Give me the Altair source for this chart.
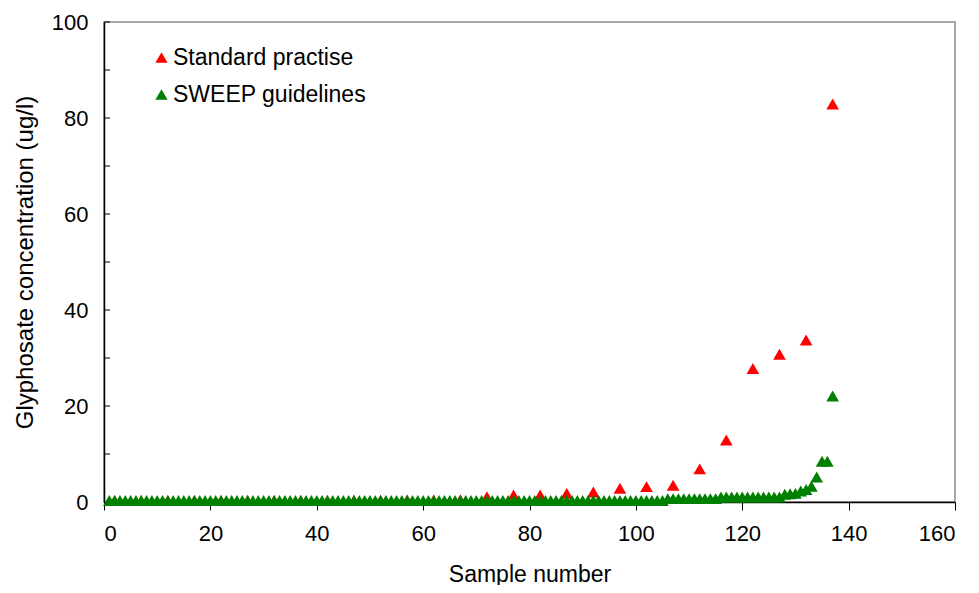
import altair as alt
import pandas as pd

# ---- data ----
green_x = list(range(1, 138))
green_y = ([0.3] * 105 +            # samples 1-105
           [0.7] * 10 +             # 106-115
           [1.05] * 12 +            # 116-127
           [1.6, 1.7, 1.8, 2.3, 2.6, 3.3, 5.2, 8.5, 8.5, 22.1])  # 128-137

red_x = list(range(2, 138, 5))
red_y = [0.3, 0.3, 0.3, 0.3, 0.3, 0.3, 0.3, 0.3, 0.3, 0.35, 0.35, 0.4, 0.4, 0.45,
         1.1, 1.45, 1.45, 1.8, 2.1, 2.85, 3.2, 3.5, 6.9, 12.9, 27.8, 30.8, 33.75, 82.9]

series_names = ["Standard practise", "SWEEP guidelines"]
series_colors = ["#FF0000", "#008000"]

x_ticks = [0, 20, 40, 60, 80, 100, 120, 140, 160]
y_labels = [0, 20, 40, 60, 80, 100]
y_ticks = [0, 10, 20, 30, 40, 50, 60, 70, 80, 90, 100]

df = pd.DataFrame({
    "x": red_x + green_x,
    "y": red_y + green_y,
    "series": [series_names[0]] * len(red_x) + [series_names[1]] * len(green_x),
    "order": list(range(len(red_x) + len(green_x))),
})
ticks_df = pd.DataFrame({"t": y_ticks})

FONT = "Liberation Sans"
FS = 22

points = alt.Chart(df).mark_point(
    shape="triangle-up", filled=True, size=160, opacity=1
).encode(
    x=alt.X("x:Q", scale=alt.Scale(domain=[0, 160], nice=False),
            axis=alt.Axis(values=x_ticks, title="Sample number", grid=False,
                          tickSize=8, tickColor="black", domainColor="black",
                          labelFontSize=FS, titleFontSize=23, labelPadding=13,
                          titlePadding=19, labelFont=FONT, titleFont=FONT,
                          labelColor="black", titleColor="black",
                          titleFontWeight="normal")),
    y=alt.Y("y:Q", scale=alt.Scale(domain=[0, 100], nice=False),
            axis=alt.Axis(values=y_labels, title="Glyphosate concentration (ug/l)",
                          grid=False, ticks=False, domainColor="black",
                          labelFontSize=FS, titleFontSize=24, labelPadding=16,
                          titlePadding=14, labelFont=FONT, titleFont=FONT,
                          labelColor="black", titleColor="black",
                          titleFontWeight="normal")),
    color=alt.Color("series:N",
                    scale=alt.Scale(domain=series_names, range=series_colors),
                    legend=alt.Legend(title=None, orient="none", legendX=46, legendY=24,
                                      symbolType="triangle-up", symbolSize=150,
                                      labelFontSize=23, labelFont=FONT,
                                      labelColor="black", labelOffset=0,
                                      labelLimit=0,
                                      rowPadding=13, padding=0, symbolStrokeWidth=0)),
    order=alt.Order("order:Q"),
)

inner_ticks = alt.Chart(ticks_df).mark_rule(color="black", strokeWidth=1).encode(
    y="t:Q",
    x=alt.value(0),
    x2=alt.value(6),
)

chart = alt.layer(inner_ticks, points).properties(
    width=851, height=480,
    autosize=alt.AutoSizeParams(type="none"),
    padding={"left": 96, "top": 14, "right": 16, "bottom": 83},
).configure_view(
    stroke="#8c8c8c", strokeWidth=1.5
).configure_axis(
    domainWidth=1.5
)

chart.save("out.html", embed_options={"renderer": "svg", "actions": False})
